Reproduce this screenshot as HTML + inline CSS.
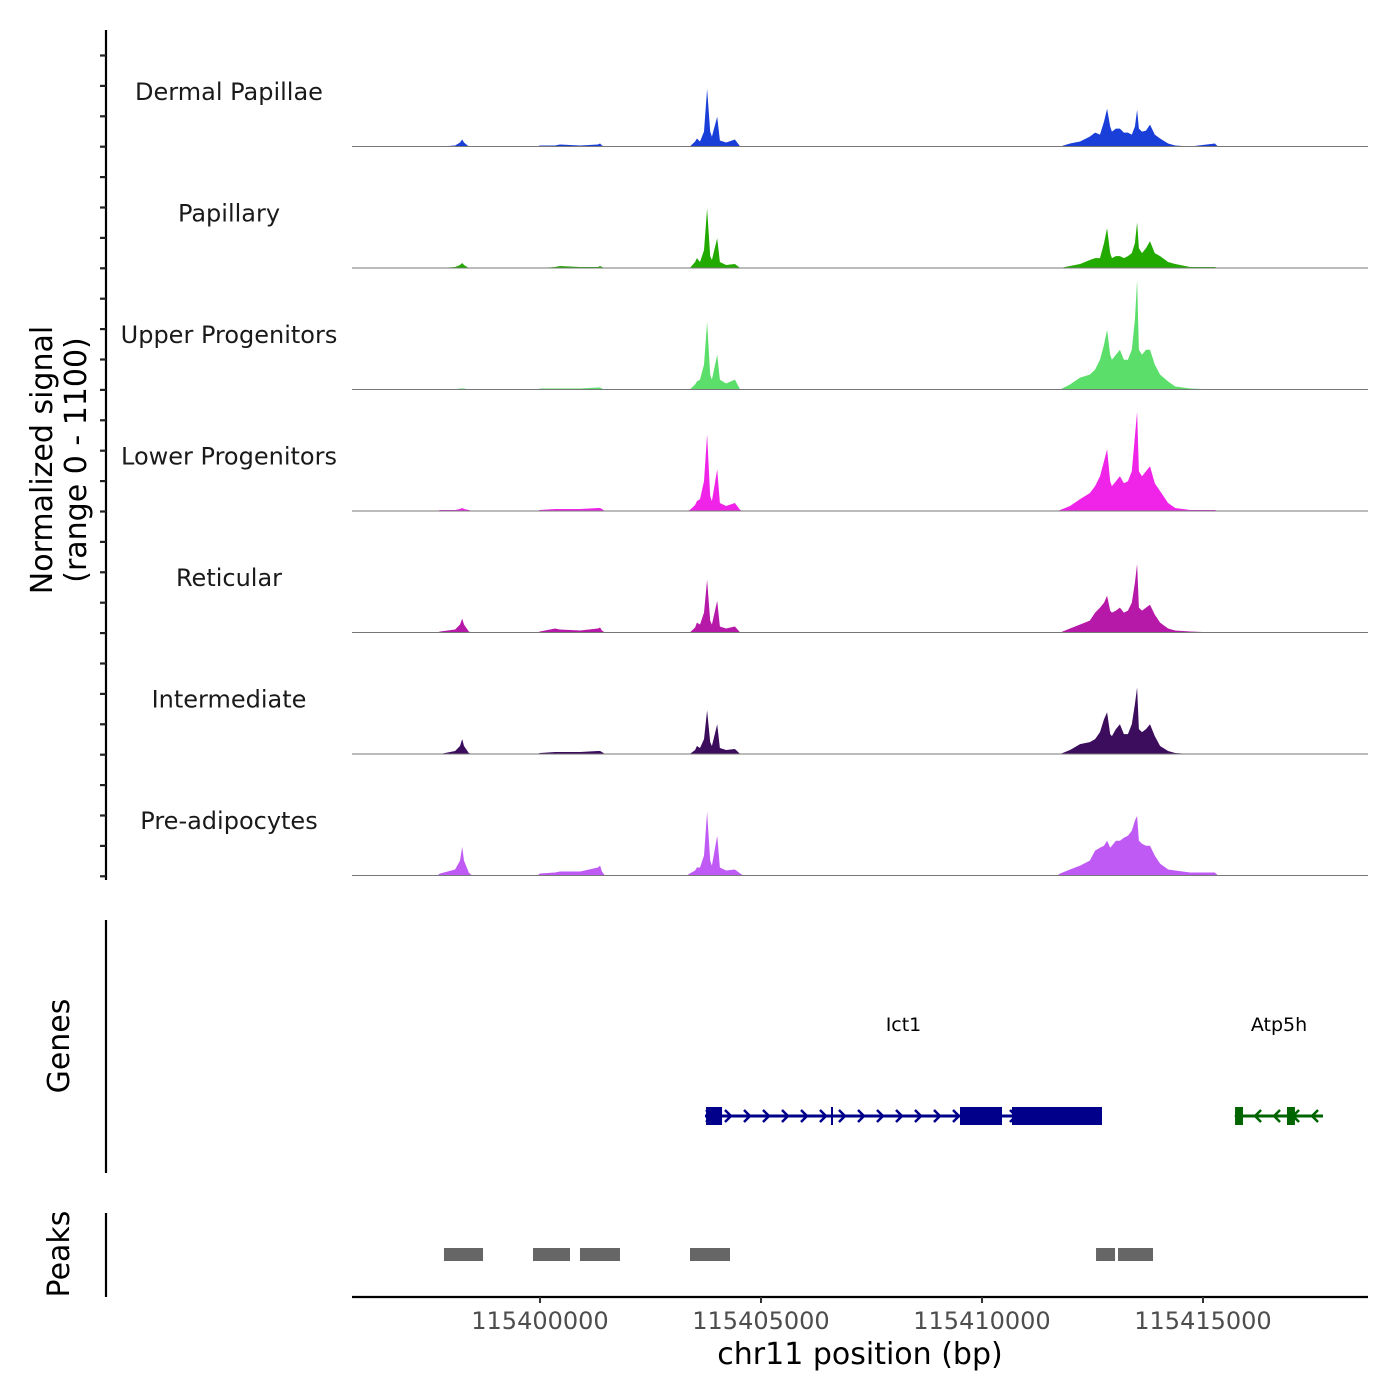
<!DOCTYPE html>
<html><head><meta charset="utf-8"><style>
html,body{margin:0;padding:0;background:#fff;}
svg{display:block;font-family:"DejaVu Sans","Liberation Sans",sans-serif;}
</style></head><body>
<svg id="chart" width="1400" height="1400" viewBox="0 0 1400 1400" xmlns="http://www.w3.org/2000/svg">
<g id="tracks"></g>
<g id="genes"></g>
<g id="peaks"></g>
<g id="axes"></g>
</svg>
<script>
const positions = [115395750,115397740,115398080,115398190,115398240,115398280,115398390,115400000,115400340,115400450,115400910,115401310,115401360,115401400,115403390,115403510,115403550,115403620,115403710,115403780,115403850,115403890,115404010,115404070,115404210,115404410,115404530,115411770,115411990,115412220,115412440,115412560,115412670,115412760,115412830,115412900,115412940,115413030,115413120,115413210,115413300,115413390,115413460,115413510,115413550,115413620,115413710,115413800,115413910,115414030,115414210,115414370,115414710,115415270,115418730];
const trackNames = ["Dermal Papillae","Papillary","Upper Progenitors","Lower Progenitors","Reticular","Intermediate","Pre-adipocytes"];
const trackColors = ["#1a3fd9","#22aa00","#5bde6a","#f023e8","#b619a8","#3b0d5c","#bf5af5"];
const sigDermal = [0,0,9,36,63,36,0,9,9,18,9,18,27,9,0,45,72,45,135,522,135,90,270,54,36,63,0,0,27,45,90,126,108,225,342,180,135,162,162,126,126,108,180,333,162,135,144,198,108,72,27,9,0,27,0];
const sigPapillary = [0,0,9,27,45,27,0,0,9,18,9,9,18,9,0,54,90,54,162,540,108,72,270,54,27,36,0,0,18,36,72,90,90,225,360,135,90,108,108,90,108,135,225,414,180,135,180,243,135,108,54,36,9,9,0];
const sigUpper = [0,0,0,9,9,9,0,9,9,9,9,18,18,9,0,45,72,90,225,612,135,90,315,90,54,90,0,0,45,108,135,180,270,405,540,315,270,315,360,270,270,360,630,990,360,315,360,360,225,135,72,27,9,0,0];
const sigLower = [0,9,9,18,27,18,9,9,18,18,18,27,27,18,9,54,90,108,270,693,135,90,378,72,45,72,9,9,45,108,162,225,315,450,558,270,225,270,315,252,270,360,675,900,360,315,360,405,252,180,72,27,9,9,0];
const sigReticular = [0,9,27,72,126,72,9,9,36,27,18,36,45,18,0,45,90,72,180,477,108,72,288,54,36,54,0,0,36,72,108,180,225,270,333,198,180,198,225,180,198,270,450,621,225,198,225,252,162,90,36,18,9,0,0];
const sigIntermediate = [0,0,27,72,135,72,9,9,18,18,18,27,27,18,0,36,72,54,135,396,108,72,270,54,36,45,0,0,36,90,108,135,198,315,378,180,162,225,270,180,180,270,450,603,225,198,225,270,162,72,27,9,0,0,0];
const sigPreadipo = [0,18,54,135,261,135,27,18,27,36,36,72,90,36,18,45,72,72,180,576,135,90,360,72,45,54,18,18,54,90,135,225,252,270,315,252,270,315,315,342,360,405,495,540,315,288,270,270,180,108,54,45,27,27,0];
const xTicks = [115400000,115405000,115410000,115415000];
const geneNames = ["Ict1","Atp5h"];
const geneStarts = [115403733,115415725];
const geneEnds = [115412715,115417715];
const geneStrand = [1,-1];
const geneColors = ["#00008b","#006400"];
const exonGene = [0,0,0,1,1];
const exonStarts = [115403757,115409502,115410679,115415725,115416900];
const exonEnds = [115404119,115410453,115412715,115415905,115417080];
const peakStarts = [115397828,115399842,115400905,115403394,115412580,115413077];
const peakEnds = [115398711,115400679,115401810,115404299,115413010,115413869];

const NS="http://www.w3.org/2000/svg";
const X0=352,X1=1368,BP0=115395747,BP1=115418733;
const xs=bp=>X0+(bp-BP0)/(BP1-BP0)*(X1-X0);
const YMAX=1100, TRH=121.5, TOP=25;
function mk(tag,attrs,parent){const e=document.createElementNS(NS,tag);for(const k in attrs)e.setAttribute(k,attrs[k]);parent.appendChild(e);return e;}
const sigs=[sigDermal,sigPapillary,sigUpper,sigLower,sigReticular,sigIntermediate,sigPreadipo];
const gT=document.getElementById('tracks');
sigs.forEach((s,i)=>{
  const base=TOP+TRH*(i+1);
  const ys=v=>base-v/YMAX*TRH;
  let d='M'+X0+','+base;
  let px=null;
  positions.forEach((p,j)=>{
    const x=xs(p);
    if(px!==null && x-px>25){d+=' L'+(px+3).toFixed(1)+','+base+' L'+(x-3).toFixed(1)+','+base;}
    d+=' L'+x.toFixed(1)+','+ys(s[j]).toFixed(1);
    px=x;
  });
  d+=' L'+X1+','+base+' Z';
  const a=mk('path',{d:d,fill:trackColors[i]},gT);
  
  
  const l=mk('line',{x1:X0,x2:X1,y1:base,y2:base,stroke:'#777','stroke-width':1},gT);
  
  
  const t=mk('text',{x:229,y:TOP+TRH*i+75,'text-anchor':'middle','font-size':24,fill:'#1a1a1a'},gT);
  t.textContent=trackNames[i];
  
  
});
const gG=document.getElementById('genes');
const GY=1116;
geneNames.forEach((n,i)=>{
  const x1=xs(geneStarts[i]),x2=xs(geneEnds[i]),c=geneColors[i];
  const ln=mk('line',{x1:x1,x2:x2,y1:GY,y2:GY,stroke:c,'stroke-width':3},gG);
  
  
  for(let x=x1+4;x<x2-6;x+=19){
    const dir=geneStrand[i];
    const ch=mk('polyline',{points:`${x-3*dir},${GY-6} ${x+3*dir},${GY} ${x-3*dir},${GY+6}`,fill:'none',stroke:c,'stroke-width':2.5},gG);
    
    
  }
  const t=mk('text',{x:(x1+x2)/2,y:1031,'text-anchor':'middle','font-size':19,fill:'#000'},gG);
  t.textContent=n;
  
  
});
exonStarts.forEach((s,i)=>{
  const x1=xs(s),x2=xs(exonEnds[i]);
  const r=mk('rect',{x:x1,y:GY-9,width:Math.max(x2-x1,3),height:18,fill:geneColors[exonGene[i]]},gG);
  
  
});
mk('line',{x1:832,x2:832,y1:GY-9,y2:GY+9,stroke:'#00008b','stroke-width':2},gG);
const gP=document.getElementById('peaks');
peakStarts.forEach((s,i)=>{
  const r=mk('rect',{x:xs(s),y:1248,width:xs(peakEnds[i])-xs(s),height:13,fill:'#666'},gP);
  
  
});
const gA=document.getElementById('axes');
[[30,880],[920,1173],[1213,1297]].forEach(([a,b])=>{
  const l=mk('line',{x1:106,x2:106,y1:a,y2:b,stroke:'#000','stroke-width':2.2},gA);
  
  
});
for(let y=55.5;y<=878;y+=30.4){mk('line',{x1:100,x2:106,y1:y,y2:y,stroke:'#222','stroke-width':2.2},gA);}
const xl=mk('line',{x1:X0,x2:X1,y1:1297,y2:1297,stroke:'#000','stroke-width':2.2},gA);


xTicks.forEach(v=>{
  const x=xs(v);
  mk('line',{x1:x,x2:x,y1:1297,y2:1303,stroke:'#333','stroke-width':2},gA);
  const t=mk('text',{x:x,y:1329,'text-anchor':'middle','font-size':24,fill:'#4d4d4d'},gA);
  t.textContent=v;
  
  
});
</script>
<script>
(function(){
const svg=document.getElementById('chart');
const NS="http://www.w3.org/2000/svg";
function txt(s,attrs,name){const e=document.createElementNS(NS,'text');for(const k in attrs)e.setAttribute(k,attrs[k]);e.textContent=s;


svg.appendChild(e);}
txt('chr11 position (bp)',{x:860,y:1364,'text-anchor':'middle','font-size':30,fill:'#000'},'x-axis-title');
txt('Normalized signal',{x:0,y:0,transform:'translate(52,460) rotate(-90)','text-anchor':'middle','font-size':30,fill:'#000'},'y-axis-title');
txt('(range 0 - 1100)',{x:0,y:0,transform:'translate(86,460) rotate(-90)','text-anchor':'middle','font-size':30,fill:'#000'},'y-axis-subtitle');
txt('Genes',{x:0,y:0,transform:'translate(69,1046) rotate(-90)','text-anchor':'middle','font-size':30,fill:'#000'},'genes-axis-title');
txt('Peaks',{x:0,y:0,transform:'translate(69,1254) rotate(-90)','text-anchor':'middle','font-size':30,fill:'#000'},'peaks-axis-title');
})();
</script>
</body></html>
